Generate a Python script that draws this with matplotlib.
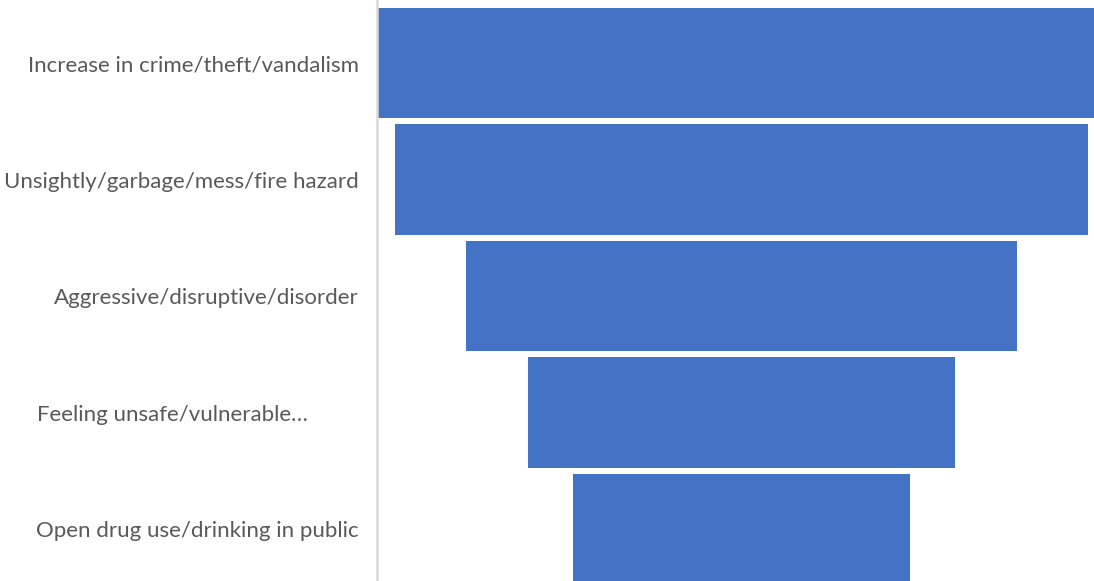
import matplotlib.pyplot as plt

# share of respondents naming each concern (%)
concerns = [
    "Increase in crime/theft/vandalism",
    "Unsightly/garbage/mess/fire hazard",
    "Aggressive/disruptive/disorder",
    "Feeling unsafe/vulnerable\u2026",
    "Open drug use/drinking in public",
]
shares = [41, 39, 31, 24, 19]

plt.rcParams['font.family'] = ['Lato', 'DejaVu Sans']

fig = plt.figure(figsize=(10.94, 5.81), dpi=100)
ax = fig.add_axes([377 / 1094, 0, 1 - 377 / 1094, 1])

pos = list(range(len(concerns)))
lefts = [-s / 2 for s in shares]
ax.barh(pos, shares, left=lefts, height=0.945, color="#4472C4")

top = max(shares) / 2
ax.set_xlim(-top, top * 352.5 / 364.5)
ax.set_ylim(4.446, -0.541)

ax.set_yticks(pos)
labels = list(concerns)
labels[3] = labels[3] + "\u2007" * 4
ax.set_yticklabels(labels, fontsize=16, color="#595959")
ax.tick_params(axis='y', length=0, pad=13)
ax.set_xticks([])

for side in ["top", "right", "bottom"]:
    ax.spines[side].set_visible(False)
ax.spines["left"].set_color("#D9D9D9")
ax.spines["left"].set_linewidth(1.8)

plt.savefig("out.png")
